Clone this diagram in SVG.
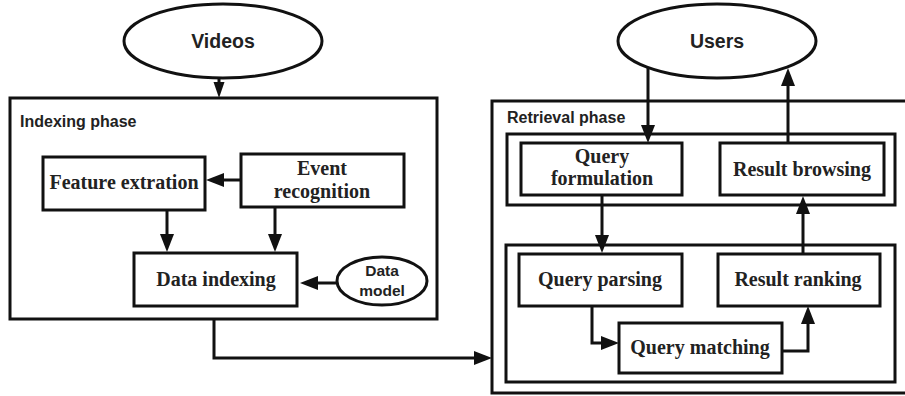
<svg xmlns="http://www.w3.org/2000/svg" width="905" height="396" viewBox="0 0 905 396">
<style>
.box{fill:#fff;stroke:#111;stroke-width:3}
.frame{fill:none;stroke:#111;stroke-width:3}
.conn{fill:none;stroke:#111;stroke-width:3}
.sans{font-family:"Liberation Sans",Arial,sans-serif;font-weight:bold;fill:#222}
.serif{font-family:"Liberation Serif","Times New Roman",serif;font-weight:bold;font-size:20px;fill:#222;text-anchor:middle}
</style>
<defs>
<marker id="ah" markerUnits="userSpaceOnUse" markerWidth="20" markerHeight="16" refX="10" refY="7" orient="auto">
<path d="M0,0 L18,7 L0,14 z" fill="#111"/>
</marker>
<marker id="ahs" markerUnits="userSpaceOnUse" markerWidth="20" markerHeight="14" refX="8" refY="5.5" orient="auto">
<path d="M0,0 L16,5.5 L0,11 z" fill="#111"/>
</marker>
</defs>
<rect width="905" height="396" fill="#fff"/>

<g id="indexing-phase">
<rect class="frame" x="10" y="98" width="427" height="221"/>
<text class="sans" x="20" y="127" font-size="16">Indexing phase</text>
</g>
<g id="retrieval-phase">
<rect class="frame" x="492" y="101" width="420" height="292"/>
<text class="sans" x="507" y="123" font-size="16">Retrieval phase</text>
<rect class="frame" x="507" y="134" width="388" height="71"/>
<rect class="frame" x="506" y="245" width="389" height="137"/>
</g>

<g id="videos">
<ellipse class="box" cx="223" cy="41" rx="99" ry="37"/>
<text class="sans" x="223" y="48" font-size="19.5" text-anchor="middle">Videos</text>
</g>
<g id="users">
<ellipse class="box" cx="717" cy="41" rx="99" ry="37"/>
<text class="sans" x="717" y="48" font-size="19.5" text-anchor="middle">Users</text>
</g>
<g id="feature-extraction">
<rect class="box" x="43" y="157" width="162" height="53"/>
<text class="serif" x="124" y="189">Feature extration</text>
</g>
<g id="event-recognition">
<rect class="box" x="241" y="154" width="163" height="53"/>
<text class="serif" x="322" y="175">Event</text>
<text class="serif" x="322" y="198">recognition</text>
</g>
<g id="data-indexing">
<rect class="box" x="134" y="253" width="163" height="53"/>
<text class="serif" x="216" y="286">Data indexing</text>
</g>
<g id="data-model">
<ellipse class="box" cx="382" cy="281" rx="45" ry="24"/>
<text class="sans" x="382" y="276" font-size="15.5" font-weight="normal" text-anchor="middle" style="font-weight:600">Data</text>
<text class="sans" x="382" y="296" font-size="15.5" text-anchor="middle" style="font-weight:600">model</text>
</g>
<g id="query-formulation">
<rect class="box" x="521" y="143" width="161" height="52"/>
<text class="serif" x="602" y="163">Query</text>
<text class="serif" x="602" y="185">formulation</text>
</g>
<g id="result-browsing">
<rect class="box" x="720" y="143" width="164" height="52"/>
<text class="serif" x="802" y="176">Result browsing</text>
</g>
<g id="query-parsing">
<rect class="box" x="519" y="254" width="163" height="52"/>
<text class="serif" x="600" y="286">Query parsing</text>
</g>
<g id="result-ranking">
<rect class="box" x="718" y="254" width="162" height="52"/>
<text class="serif" x="798" y="286">Result ranking</text>
</g>
<g id="query-matching">
<rect class="box" x="619" y="323" width="163" height="50"/>
<text class="serif" x="700" y="354">Query matching</text>
</g>

<g id="connectors">
<path class="conn" d="M219,78 V90" marker-end="url(#ahs)"/>
<path class="conn" d="M241,180 H214" marker-end="url(#ah)"/>
<path class="conn" d="M167,210 V244" marker-end="url(#ah)"/>
<path class="conn" d="M275,207 V244" marker-end="url(#ah)"/>
<path class="conn" d="M337,283 H308" marker-end="url(#ah)"/>
<path class="conn" d="M214,319 V358 H484" marker-end="url(#ah)"/>
<path class="conn" d="M648,67 V135" marker-end="url(#ah)"/>
<path class="conn" d="M788,143 V76" marker-end="url(#ah)"/>
<path class="conn" d="M602,195 V245" marker-end="url(#ah)"/>
<path class="conn" d="M803,254 V204" marker-end="url(#ah)"/>
<path class="conn" d="M592,306 V343 H611" marker-end="url(#ah)"/>
<path class="conn" d="M782,351 H808 V314" marker-end="url(#ah)"/>
</g>
</svg>
